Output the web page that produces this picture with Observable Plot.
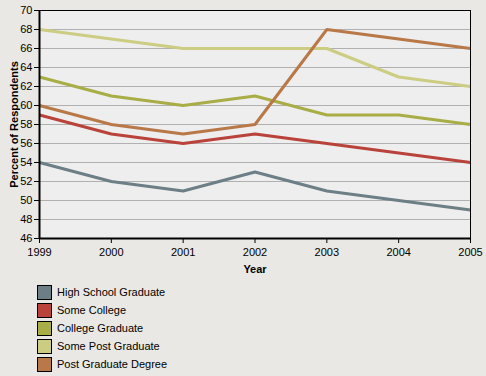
<!DOCTYPE html>
<html>
<head>
<meta charset="utf-8">
<script src="https://cdn.jsdelivr.net/npm/d3@7"></script>
<script src="https://cdn.jsdelivr.net/npm/@observablehq/plot@0.6"></script>
<style>
  html, body { margin: 0; padding: 0; background: #e9e8e4; }
  #chart { width: 486px; height: 376px; background: #e9e8e4; font-family: "Liberation Sans", Arial, sans-serif; position: relative; }
  #legend { position: absolute; left: 37px; top: 283px; font-size: 11px; color: #000; }
  .item { display: flex; align-items: center; height: 18px; }
  .sw { width: 13px; height: 13px; border: 1px solid #000; margin-right: 5px; box-sizing: content-box; }
</style>
</head>
<body>
<div id="chart"></div>
<script>
const years = [1999, 2000, 2001, 2002, 2003, 2004, 2005];
const seriesNames = ["High School Graduate", "Some College", "College Graduate", "Some Post Graduate", "Post Graduate Degree"];
const seriesColors = ["#6c7f86", "#b9433a", "#a8ad45", "#cccd82", "#b97848"];
const highSchool = [54, 52, 51, 53, 51, 50, 49];
const someCollege = [59, 57, 56, 57, 56, 55, 54];
const collegeGrad = [63, 61, 60, 61, 59, 59, 58];
const somePostGrad = [68, 67, 66, 66, 66, 63, 62];
const postGradDegree = [60, 58, 57, 58, 68, 67, 66];
const yTicks = [46, 48, 50, 52, 54, 56, 58, 60, 62, 64, 66, 68, 70];

const allSeries = [highSchool, someCollege, collegeGrad, somePostGrad, postGradDegree];
const rows = [];
allSeries.forEach((vals, i) => vals.forEach((v, j) => rows.push({series: seriesNames[i], year: years[j], value: v})));

const plot = Plot.plot({
  width: 486,
  height: 280,
  marginLeft: 39,
  marginRight: 16,
  marginTop: 10,
  marginBottom: 42,
  style: {background: "transparent", fontSize: "11px", fontFamily: "Liberation Sans, Arial, sans-serif", color: "#000"},
  x: {domain: [1999, 2005], ticks: years, tickFormat: "d"},
  y: {domain: [46, 70], ticks: yTicks},
  color: {domain: seriesNames, range: seriesColors},
  marks: [
    Plot.frame({fill: "#eeeeee", stroke: "none"}),
    Plot.gridY(yTicks, {stroke: "#b0b0b0", strokeOpacity: 1, strokeWidth: 1}),
    Plot.axisY({ticks: yTicks, tickSize: 5, tickPadding: 2, label: "Percent of Respondents", labelAnchor: "center", labelOffset: 29}),
    Plot.axisX({ticks: years, tickFormat: "d", tickSize: 5, tickPadding: 5, label: "Year", labelAnchor: "center", labelOffset: 34}),
    Plot.line(rows, {x: "year", y: "value", z: "series", stroke: "series", strokeWidth: 3, strokeLinejoin: "miter", strokeLinecap: "butt"}),
    Plot.frame({stroke: "#000", strokeWidth: 1}),
    Plot.ruleX([1999], {stroke: "#000", strokeWidth: 2}),
    Plot.ruleY([46], {stroke: "#000", strokeWidth: 2})
  ]
});
// bold axis labels, no arrows
plot.querySelectorAll("[aria-label='y-axis label'], [aria-label='x-axis label']").forEach(g => {
  g.setAttribute("font-weight", "bold");
  g.querySelectorAll("text").forEach(t => { t.textContent = t.textContent.replace(/\s*[→←↑↓]\s*/g, "").trim(); });
});
document.getElementById("chart").appendChild(plot);

const legend = document.createElement("div");
legend.id = "legend";
seriesNames.forEach((name, i) => {
  const item = document.createElement("div");
  item.className = "item";
  const sw = document.createElement("div");
  sw.className = "sw";
  sw.style.background = seriesColors[i];
  const label = document.createElement("span");
  label.textContent = name;
  item.appendChild(sw);
  item.appendChild(label);
  legend.appendChild(item);
});
document.getElementById("chart").appendChild(legend);
</script>
</body>
</html>
